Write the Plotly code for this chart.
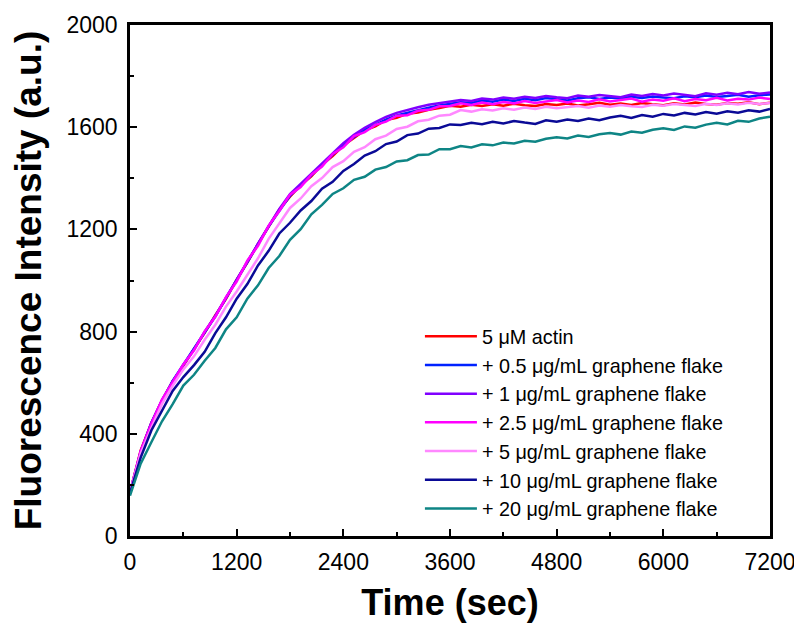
import plotly.graph_objects as go

# Fluorescence intensity sampled every 120 s (0 ... 7200 s)
STEP = 120
actin = [172, 335, 442, 531, 606, 666, 732, 795, 864, 928, 1003, 1070, 1143, 1208, 1278, 1328, 1373, 1408, 1453, 1487, 1528, 1558, 1588, 1603, 1628, 1637, 1653, 1657, 1668, 1675, 1684, 1680, 1688, 1683, 1690, 1684, 1692, 1686, 1683, 1691, 1687, 1693, 1685, 1690, 1696, 1688, 1693, 1687, 1695, 1690, 1686, 1694, 1689, 1697, 1691, 1688, 1695, 1692, 1698, 1690, 1696]
gf_0_5 = [168, 328, 441, 528, 607, 669, 733, 798, 860, 932, 1001, 1075, 1141, 1212, 1273, 1332, 1371, 1412, 1452, 1493, 1530, 1562, 1590, 1610, 1630, 1646, 1656, 1668, 1676, 1685, 1692, 1698, 1695, 1704, 1700, 1708, 1703, 1711, 1706, 1714, 1709, 1705, 1713, 1717, 1710, 1716, 1712, 1719, 1714, 1720, 1716, 1713, 1721, 1717, 1724, 1718, 1722, 1727, 1719, 1725, 1728]
gf_1 = [171, 331, 443, 532, 604, 670, 729, 800, 861, 933, 1002, 1076, 1144, 1213, 1280, 1338, 1378, 1418, 1460, 1500, 1537, 1570, 1598, 1620, 1640, 1656, 1668, 1678, 1688, 1694, 1701, 1706, 1703, 1712, 1708, 1716, 1711, 1719, 1714, 1722, 1717, 1713, 1724, 1719, 1726, 1721, 1717, 1728, 1722, 1730, 1724, 1732, 1726, 1721, 1733, 1727, 1735, 1729, 1738, 1731, 1736]
gf_2_5 = [170, 332, 438, 534, 602, 671, 727, 801, 858, 935, 996, 1078, 1136, 1215, 1272, 1336, 1366, 1414, 1446, 1495, 1521, 1565, 1581, 1609, 1622, 1645, 1647, 1664, 1668, 1682, 1683, 1694, 1687, 1697, 1690, 1699, 1693, 1702, 1695, 1700, 1706, 1697, 1704, 1699, 1709, 1701, 1706, 1712, 1700, 1708, 1704, 1713, 1702, 1710, 1706, 1715, 1705, 1711, 1708, 1716, 1710]
gf_5 = [170, 322, 423, 517, 588, 652, 703, 768, 827, 898, 957, 1023, 1087, 1163, 1222, 1284, 1321, 1369, 1401, 1444, 1467, 1504, 1522, 1553, 1567, 1593, 1602, 1623, 1629, 1645, 1649, 1667, 1661, 1670, 1665, 1674, 1668, 1677, 1671, 1680, 1674, 1678, 1683, 1676, 1685, 1680, 1687, 1682, 1679, 1688, 1684, 1691, 1686, 1683, 1692, 1687, 1694, 1689, 1696, 1691, 1695]
gf_10 = [168, 307, 413, 492, 568, 622, 669, 721, 794, 856, 929, 986, 1059, 1116, 1184, 1226, 1274, 1311, 1359, 1386, 1429, 1456, 1489, 1506, 1534, 1544, 1569, 1575, 1594, 1597, 1611, 1609, 1617, 1612, 1621, 1615, 1624, 1618, 1613, 1627, 1621, 1630, 1624, 1634, 1627, 1638, 1645, 1636, 1648, 1641, 1652, 1646, 1656, 1650, 1659, 1653, 1662, 1657, 1666, 1661, 1671]
gf_20 = [158, 283, 367, 449, 516, 589, 631, 686, 736, 809, 856, 929, 981, 1049, 1096, 1159, 1201, 1259, 1296, 1339, 1361, 1394, 1406, 1434, 1444, 1466, 1471, 1491, 1493, 1514, 1514, 1526, 1521, 1533, 1529, 1540, 1536, 1547, 1543, 1555, 1561, 1556, 1567, 1562, 1572, 1577, 1571, 1583, 1578, 1590, 1596, 1589, 1603, 1598, 1610, 1617, 1611, 1625, 1621, 1634, 1641]

names = ["5 μM actin", "+ 0.5 μg/mL graphene flake", "+ 1 μg/mL graphene flake",
         "+ 2.5 μg/mL graphene flake", "+ 5 μg/mL graphene flake",
         "+ 10 μg/mL graphene flake", "+ 20 μg/mL graphene flake"]
series = [actin, gf_0_5, gf_1, gf_2_5, gf_5, gf_10, gf_20]
colors = ["#FF0000", "#0022FF", "#8000FF", "#FF00FF", "#FF88FF", "#0A0A96", "#0E8585"]

x_ticks = [0, 1200, 2400, 3600, 4800, 6000, 7200]
y_ticks = [0, 400, 800, 1200, 1600, 2000]

FONT = "Liberation Sans, Arial"

fig = go.Figure()
for name, vals, col in zip(names, series, colors):
    fig.add_trace(go.Scatter(
        x=[STEP * i for i in range(len(vals))], y=vals, mode="lines", name=name,
        line=dict(color=col, width=2.5)))

axis_common = dict(
    showline=True, linecolor="black", linewidth=2.5, mirror=True,
    ticks="inside", ticklen=7, tickwidth=2, tickcolor="black",
    showgrid=False, zeroline=False, automargin=False,
    tickfont=dict(family=FONT, size=23, color="black"),
)

fig.update_xaxes(
    range=[0, 7200], tickmode="array", tickvals=x_ticks,
    ticktext=[str(v) for v in x_ticks], ticklabelstandoff=4,
    minor=dict(ticks="inside", ticklen=4, tickwidth=2, tickcolor="black", dtick=600),
    title=dict(text="<b>Time (sec)</b>", standoff=16,
               font=dict(family=FONT, size=36, color="black")),
    **axis_common)
fig.update_yaxes(
    range=[0, 2000], tickmode="array", tickvals=y_ticks,
    ticktext=[str(v) for v in y_ticks], ticklabelstandoff=5,
    minor=dict(ticks="inside", ticklen=4, tickwidth=2, tickcolor="black", dtick=200),
    title=dict(text="<b>Fluorescence Intensity (a.u.)</b>", standoff=14,
               font=dict(family=FONT, size=37, color="black")),
    **axis_common)

# page body has an 8 px margin, so the figure is sized to fit the 802x623 window
fig.update_layout(
    width=794, height=615,
    margin=dict(l=122, r=32, t=17, b=87),
    paper_bgcolor="white", plot_bgcolor="white",
    showlegend=True,
    legend=dict(x=0.453, y=0.429, xanchor="left", yanchor="top",
                bgcolor="rgba(0,0,0,0)", borderwidth=0,
                font=dict(family=FONT, size=19.8, color="black"),
                itemwidth=52, tracegroupgap=0),
)

fig.write_html("out.html")
